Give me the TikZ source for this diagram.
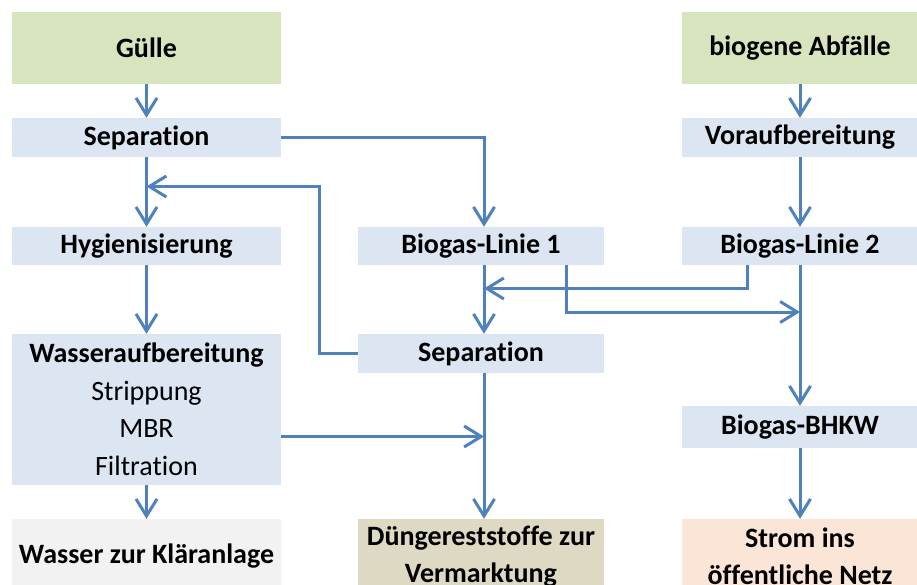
\documentclass[tikz,border=0pt]{standalone}
\usepackage{fontspec}
\setmainfont{Carlito}[RawFeature=-liga]
\usetikzlibrary{arrows.meta,calc}
\definecolor{boxblue}{HTML}{DCE6F2}
\definecolor{boxgreen}{HTML}{D7E4BD}
\definecolor{boxgrey}{HTML}{F2F2F2}
\definecolor{boxtan}{HTML}{DDD9C3}
\definecolor{boxpeach}{HTML}{FBE5D6}
\definecolor{linecol}{HTML}{4F81BD}
\tikzset{
  box/.style={rectangle, inner sep=0pt, align=center, font=\fontsize{28}{37.5}\selectfont\bfseries, text=black},
  arr/.style={draw=linecol, line width=3pt, -{Straight Barb[length=17pt,width=21pt,line width=3pt]}},
}
\begin{document}
\begin{tikzpicture}[x=1pt,y=-1pt]
\useasboundingbox (0,0) rectangle (917,585);
\clip (0,0) rectangle (917,585);
% left column
\node[box, fill=boxgreen, minimum width=269pt, minimum height=72pt] (guelle) at (146.5,48) {Gülle};
\node[box, fill=boxblue, minimum width=269pt, minimum height=39pt] (sep1) at (146.5,137.5) {Separation};
\node[box, fill=boxblue, minimum width=269pt, minimum height=38pt] (hyg) at (146.5,246) {Hygienisierung};
\node[box, fill=boxblue, minimum width=269pt, minimum height=151pt] (wasser) at (146.5,409.5) {Wasseraufbereitung\\\mdseries Strippung\\\mdseries MBR\\\mdseries Filtration};
\node[box, fill=boxgrey, minimum width=269pt, minimum height=75pt] (klaer) at (146.5,556.5) {Wasser zur Kläranlage};
% middle column
\node[box, fill=boxblue, minimum width=246pt, minimum height=38pt] (bio1) at (481,246) {Biogas-Linie 1};
\node[box, fill=boxblue, minimum width=246pt, minimum height=39pt] (sep2) at (481,353.5) {Separation};
\node[box, fill=boxtan, minimum width=246pt, minimum height=75pt] (dueng) at (481,556.5) {Düngereststoffe zur\\Vermarktung};
% right column
\node[box, fill=boxgreen, minimum width=236pt, minimum height=72pt] (abf) at (800,48) {biogene Abfälle};
\node[box, fill=boxblue, minimum width=236pt, minimum height=39pt] (vor) at (800,137.5) {Voraufbereitung};
\node[box, fill=boxblue, minimum width=236pt, minimum height=38pt] (bio2) at (800,246) {Biogas-Linie 2};
\node[box, fill=boxblue, minimum width=236pt, minimum height=42pt] (bhkw) at (800,427) {Biogas-BHKW};
\node[box, fill=boxpeach, minimum width=236pt, minimum height=75pt] (strom) at (800,556.5) {Strom ins\\öffentliche Netz};
% helper coordinates
\coordinate (mx) at (484,0);
\coordinate (j1) at (146.5,186.5);
\coordinate (j2) at (484,288.5);
\coordinate (j3) at (800,312);
\coordinate (j4) at (484,436.5);
% connectors left
\draw[arr] (guelle) -- (sep1);
\draw[arr] (sep1) -- (hyg);
\draw[arr] (hyg) -- (wasser);
\draw[arr] (wasser) -- (klaer);
\draw[arr] (sep2.west) -- ++(-38,0) |- (j1);
% connectors middle
\draw[arr] (sep1.east) -| (bio1.north -| mx);
\draw[arr] (bio1.south -| mx) -- (sep2.north -| mx);
\draw[arr] (sep2.south -| mx) -- (dueng.north -| mx);
\draw[arr] ([yshift=-27pt]wasser.east) -- (j4);
% connectors right
\draw[arr] (abf) -- (vor);
\draw[arr] (vor) -- (bio2);
\draw[arr] (bio2) -- (bhkw);
\draw[arr] (bhkw) -- (strom);
\draw[arr] ([xshift=-53pt]bio2.south) |- (j2);
\draw[arr] ([xshift=85pt]bio1.south) |- (j3);
\end{tikzpicture}
\end{document}
